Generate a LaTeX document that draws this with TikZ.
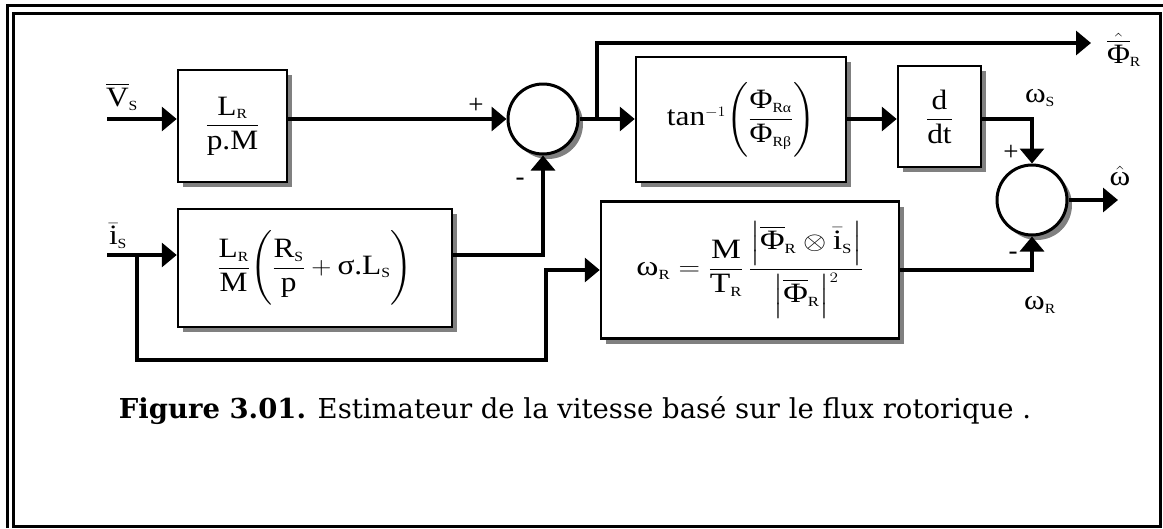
\documentclass[tikz,border=0pt]{standalone}
\usepackage{amsmath}
\usepackage{graphicx}
\usepackage{fontspec}
\setmainfont{Liberation Serif}
\newfontfamily\capfont{DejaVu Serif}
\usetikzlibrary{arrows.meta,shadows,calc}
\newcommand\sbs[1]{_{\scriptscriptstyle\text{#1}}}
\newcommand\wide[1]{\scalebox{1.12}[1]{#1}}
\newcommand\wider[1]{\scalebox{1.2}[1]{#1}}
\tikzset{
  shad/.style={drop shadow={shadow xshift=5pt,shadow yshift=-5pt,fill=black!50,opacity=1}},
  blk/.style={draw, line width=2.5pt, fill=white, inner sep=0pt, shad},
  sumc/.style={circle, draw, line width=3pt, fill=white, minimum size=70pt, inner sep=0pt, shad},
  ln/.style={line width=3.3pt},
  arr/.style={ln, -{Triangle[length=15pt,width=24pt]}},
  sgn/.style={font=\fontsize{27}{30}\selectfont, inner sep=0pt},
  lbl/.style={inner sep=0pt}
}
\begin{document}
\begin{tikzpicture}[x=1pt,y=-1pt,font=\fontsize{28}{33}\selectfont]
\useasboundingbox (0,0) rectangle (1163,528);
% frame
\draw[line width=3pt] (7.5,528) -- (7.5,5.5) -- (1163,5.5);
\draw[line width=3pt] (13.5,13) rectangle (1160.5,526.5);

% blocks
\node[blk, minimum width=109pt, minimum height=112pt] (b1) at (232.5,126)
  {\wide{$\dfrac{\text{L}\sbs{R}}{\text{p.M}}$}};
\node[blk, minimum width=274pt, minimum height=118pt] (b2) at (315,268)
  {\wide{$\dfrac{\text{L}\sbs{R}}{\text{M}}\Biggl(\dfrac{\text{R}\sbs{S}}{\text{p}}+\text{σ.L}\sbs{S}\Biggr)$}};
\node[blk, minimum width=210pt, minimum height=125pt] (b3) at (741,119.5)
  {\wide{$\text{tan}^{\scriptscriptstyle -1}\Biggl(\dfrac{\text{Φ}\sbs{Rα}}{\text{Φ}\sbs{Rβ}}\Biggr)$}};
\node[blk, minimum width=83pt, minimum height=101pt] (b4) at (939.5,116.5)
  {\wide{$\dfrac{\text{d}}{\text{dt}}$}};
\node[blk, minimum width=298pt, minimum height=137pt] (b5) at (750,270)
  {\wider{$\text{ω}\sbs{R}=\dfrac{\text{M}}{\text{T}\sbs{R}}\,\dfrac{\Bigl|\overline{\text{Φ}}\sbs{R}\otimes\bar{\text{i}}\sbs{S}\Bigr|}{\Bigl|\overline{\text{Φ}}\sbs{R}\Bigr|^{\scriptscriptstyle 2}}$}};
\node[sumc] (s1) at (543,119) {};
\node[sumc] (s2) at (1032,200) {};

% coordinates
\coordinate (vin) at (107,119);
\coordinate (iin) at (107,255);
\coordinate (br1) at (137,255);
\coordinate (fbc) at (546,360);
\coordinate (br2) at (597,119);
\coordinate (phiend) at (1091,43);
\coordinate (wout) at (1118,200);

% connectors
\draw[arr] (vin) -- (vin -| b1.west);
\draw[arr] (b1.east |- vin) -- (s1.west);
\draw[arr] (iin) -- (iin -| b2.west);
\draw[arr] (b2.east |- iin) -| (s1.south);
\draw[arr] (br1) |- (fbc) |- (b5.west);
\draw[arr] (s1.east) -- (s1.east -| b3.west);
\draw[arr] (br2) |- (phiend);
\draw[arr] (b3.east |- s1) -- (b4.west |- s1);
\draw[arr] (b4.east |- s1) -| (s2.north);
\draw[arr] (s2.east) -- (wout);
\draw[arr] (b5.east) -| (s2.south);

% labels
\node[lbl] (lvs) at (122,97) {\wide{$\overline{\text{V}}\sbs{S}$}};
\node[lbl] (lis) at (118,236) {\wide{$\bar{\text{i}}\sbs{S}$}};
\node[lbl] (lphi) at (1124,50) {\wide{$\hat{\overline{\text{Φ}}}\sbs{R}$}};
\node[lbl] (lws) at (1040,98) {\wide{$\text{ω}\sbs{S}$}};
\node[lbl] (lwr) at (1040,305) {\wide{$\text{ω}\sbs{R}$}};
\node[lbl] (lwh) at (1120,176) {\wide{$\hat{\text{ω}}$}};
\node[sgn] (p1) at (476,106) {+};
\node[sgn] (m1) at (520,182) {-};
\node[sgn] (p2) at (1011,153) {+};
\node[sgn] (m2) at (1013,256) {-};

% caption
\node[lbl] (cap) at (575,411) {\resizebox*{912pt}{28pt}{\capfont\textbf{Figure 3.01.} Estimateur de la vitesse basé sur le flux rotorique .}};
\end{tikzpicture}
\end{document}
